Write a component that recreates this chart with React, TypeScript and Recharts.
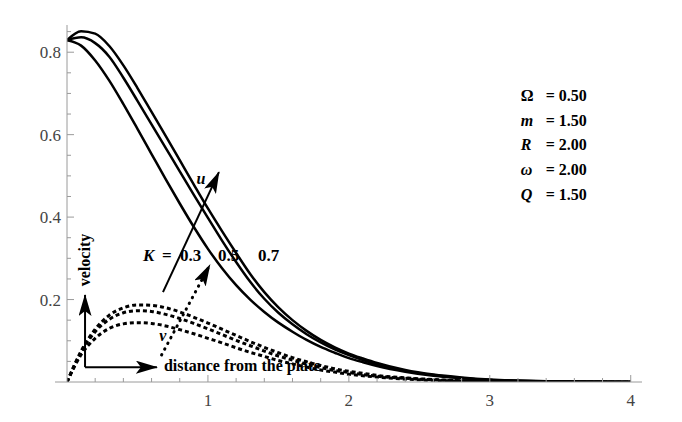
import React from "react";
import {
  LineChart,
  Line,
  XAxis,
  YAxis,
  ReferenceLine,
  ReferenceDot,
} from "recharts";

// distance from the plate
const distance = [
  0, 0.1, 0.2, 0.3, 0.4, 0.5, 0.6, 0.7, 0.8, 0.9, 1.0, 1.1, 1.2, 1.3, 1.4, 1.5,
  1.6, 1.7, 1.8, 1.9, 2.0, 2.1, 2.2, 2.4, 2.6, 2.8, 3.0, 3.2, 3.5, 4.0,
];

// primary velocity u
const uK03 = [
  0.829, 0.816, 0.78, 0.731, 0.674, 0.614, 0.553, 0.492, 0.433, 0.376, 0.323,
  0.276, 0.235, 0.2, 0.17, 0.144, 0.122, 0.102, 0.085, 0.071, 0.058, 0.048,
  0.039, 0.025, 0.015, 0.009, 0.005, 0.003, 0.001, 0,
];
const uK05 = [
  0.829, 0.836, 0.822, 0.789, 0.738, 0.682, 0.625, 0.568, 0.511, 0.454, 0.398,
  0.343, 0.291, 0.243, 0.202, 0.168, 0.14, 0.116, 0.096, 0.079, 0.065, 0.053,
  0.043, 0.027, 0.017, 0.01, 0.005, 0.003, 0.001, 0,
];
const uK07 = [
  0.829, 0.851, 0.845, 0.815, 0.768, 0.713, 0.655, 0.597, 0.538, 0.479, 0.421,
  0.366, 0.313, 0.262, 0.218, 0.181, 0.15, 0.124, 0.102, 0.084, 0.069, 0.057,
  0.046, 0.029, 0.018, 0.011, 0.006, 0.003, 0.001, 0,
];

// secondary velocity v
const vK03 = [
  0, 0.066, 0.106, 0.13, 0.141, 0.144, 0.142, 0.136, 0.127, 0.117, 0.106,
  0.095, 0.083, 0.072, 0.062, 0.052, 0.044, 0.036, 0.029, 0.024, 0.019, 0.015,
  0.012, 0.007, 0.004, 0.002, 0.001, 0.001, 0, 0,
];
const vK05 = [
  0, 0.072, 0.122, 0.152, 0.168, 0.173, 0.171, 0.164, 0.154, 0.142, 0.129,
  0.115, 0.101, 0.088, 0.075, 0.063, 0.053, 0.043, 0.035, 0.028, 0.023, 0.018,
  0.014, 0.009, 0.005, 0.003, 0.001, 0.001, 0, 0,
];
const vK07 = [
  0, 0.075, 0.128, 0.162, 0.18, 0.187, 0.186, 0.18, 0.17, 0.157, 0.143, 0.128,
  0.113, 0.098, 0.084, 0.071, 0.059, 0.049, 0.04, 0.032, 0.026, 0.021, 0.016,
  0.01, 0.006, 0.003, 0.002, 0.001, 0, 0,
];

const xTicks = [
  0.2, 0.4, 0.6, 0.8, 1, 1.2, 1.4, 1.6, 1.8, 2, 2.2, 2.4, 2.6, 2.8, 3, 3.2,
  3.4, 3.6, 3.8, 4,
];
const yTicks = [
  0.05, 0.1, 0.15, 0.2, 0.25, 0.3, 0.35, 0.4, 0.45, 0.5, 0.55, 0.6, 0.65, 0.7,
  0.75, 0.8, 0.85,
];

const paramSymbols = ["Ω", "m", "R", "ω", "Q"];
const paramValues = ["0.50", "1.50", "2.00", "2.00", "1.50"];
const paramRows = [0.682, 0.622, 0.562, 0.502, 0.4415];

const data = distance.map((x, i) => ({
  x,
  u03: uK03[i],
  u05: uK05[i],
  u07: uK07[i],
  v03: vK03[i],
  v05: vK05[i],
  v07: vK07[i],
}));

const SERIF = '"Liberation Serif", "Times New Roman", serif';
const AXIS = "#9a9a9a";
const LABEL = "#444";

function XTick({ x, y, payload }: any) {
  const v = payload.value;
  const major = Math.abs(v - Math.round(v)) < 1e-6;
  return (
    <g>
      <line x1={x} y1={y} x2={x} y2={y - (major ? 7 : 4)} stroke={AXIS} />
      {major && (
        <text
          x={x}
          y={y + 24}
          textAnchor="middle"
          fontFamily={SERIF}
          fontSize={17}
          fill={LABEL}
        >
          {Math.round(v)}
        </text>
      )}
    </g>
  );
}

function YTick({ x, y, payload }: any) {
  const v = payload.value;
  const major = Math.abs(v * 5 - Math.round(v * 5)) < 1e-6;
  return (
    <g>
      <line x1={x} y1={y} x2={x + (major ? 7 : 4)} y2={y} stroke={AXIS} />
      {major && (
        <text
          x={x - 6}
          y={y + 6}
          textAnchor="end"
          fontFamily={SERIF}
          fontSize={17}
          fill={LABEL}
        >
          {v.toFixed(1)}
        </text>
      )}
    </g>
  );
}

const arrow = (dotted: boolean) => (p: any) =>
  (
    <line
      x1={p.x1}
      y1={p.y1}
      x2={p.x2}
      y2={p.y2}
      stroke="#000"
      strokeWidth={dotted ? 3 : 2}
      strokeDasharray={dotted ? "0.5 6" : undefined}
      strokeLinecap={dotted ? "round" : "butt"}
      markerEnd="url(#head)"
    />
  );

const bold = {
  fontFamily: SERIF,
  fontSize: 16,
  fontWeight: 700,
  fill: "#000",
} as const;

export default function App() {
  return (
    <div style={{ position: "absolute", left: 0, top: 0 }}>
      <LineChart
        width={682}
        height={422}
        data={data}
        margin={{ top: 25, right: 40, bottom: 39, left: 66 }}
      >
        <defs>
          <marker
            id="head"
            viewBox="0 0 22 13"
            refX="21"
            refY="6.5"
            markerWidth="22"
            markerHeight="13"
            markerUnits="userSpaceOnUse"
            orient="auto"
          >
            <path d="M0,0 L22,6.5 L0,13 L5,6.5 Z" fill="#000" />
          </marker>
        </defs>

        <XAxis
          type="number"
          dataKey="x"
          domain={[0, 4.08]}
          ticks={xTicks}
          interval={0}
          height={1}
          tickSize={0}
          tickMargin={0}
          tickLine={false}
          axisLine={{ stroke: AXIS }}
          tick={(p: any) => <XTick {...p} />}
          allowDataOverflow
        />
        <YAxis
          type="number"
          domain={[0, 0.866]}
          ticks={yTicks}
          interval={0}
          width={1}
          tickSize={0}
          tickMargin={0}
          tickLine={false}
          axisLine={{ stroke: AXIS }}
          tick={(p: any) => <YTick {...p} />}
          allowDataOverflow
        />

        <ReferenceLine
          segment={[
            { x: -0.085, y: 0 },
            { x: 0, y: 0 },
          ]}
          stroke={AXIS}
          ifOverflow="visible"
        />

        <Line type="monotone" dataKey="u03" stroke="#000" strokeWidth={2.5} dot={false} isAnimationActive={false} />
        <Line type="monotone" dataKey="u05" stroke="#000" strokeWidth={2.5} dot={false} isAnimationActive={false} />
        <Line type="monotone" dataKey="u07" stroke="#000" strokeWidth={2.5} dot={false} isAnimationActive={false} />
        <Line type="monotone" dataKey="v03" stroke="#000" strokeWidth={3} strokeDasharray="4 3" dot={false} isAnimationActive={false} />
        <Line type="monotone" dataKey="v05" stroke="#000" strokeWidth={3} strokeDasharray="4 3" dot={false} isAnimationActive={false} />
        <Line type="monotone" dataKey="v07" stroke="#000" strokeWidth={3} strokeDasharray="4 3" dot={false} isAnimationActive={false} />

        {/* arrows */}
        <ReferenceLine
          segment={[
            { x: 0.681, y: 0.218 },
            { x: 1.078, y: 0.509 },
          ]}
          shape={arrow(false)}
        />
        <ReferenceLine
          segment={[
            { x: 0.671, y: 0.0655 },
            { x: 1.014, y: 0.284 },
          ]}
          shape={arrow(true)}
        />
        <ReferenceLine
          segment={[
            { x: 0.128, y: 0.036 },
            { x: 0.128, y: 0.211 },
          ]}
          shape={arrow(false)}
        />
        <ReferenceLine
          segment={[
            { x: 0.128, y: 0.036 },
            { x: 0.638, y: 0.036 },
          ]}
          shape={arrow(false)}
        />

        {/* labels */}
        <ReferenceDot
          x={0.95}
          y={0.48}
          r={0}
          shape={(p: any) => (
            <text x={p.cx} y={p.cy} textAnchor="middle" fontStyle="italic" {...bold}>
              u
            </text>
          )}
        />
        <ReferenceDot
          x={0.68}
          y={0.0995}
          r={0}
          shape={(p: any) => (
            <text x={p.cx} y={p.cy} textAnchor="middle" fontStyle="italic" {...bold}>
              v
            </text>
          )}
        />
        <ReferenceDot
          x={0.539}
          y={0.294}
          r={0}
          shape={(p: any) => (
            <g>
              <text x={p.cx} y={p.cy} fontStyle="italic" {...bold} fontSize={17}>
                K
              </text>
              <text x={p.cx + 19} y={p.cy} {...bold} fontSize={17}>=</text>
              <text x={p.cx + 37} y={p.cy} {...bold} fontSize={17}>0.3</text>
              <text x={p.cx + 75} y={p.cy} {...bold} fontSize={17}>0.5</text>
              <text x={p.cx + 115} y={p.cy} {...bold} fontSize={17}>0.7</text>
            </g>
          )}
        />
        <ReferenceDot
          x={0.163}
          y={0.296}
          r={0}
          shape={(p: any) => (
            <text
              x={p.cx}
              y={p.cy}
              textAnchor="middle"
              transform={`rotate(-90 ${p.cx} ${p.cy})`}
              {...bold}
            >
              velocity
            </text>
          )}
        />
        <ReferenceDot
          x={0.688}
          y={0.027}
          r={0}
          shape={(p: any) => (
            <text x={p.cx} y={p.cy} {...bold}>
              distance from the plate
            </text>
          )}
        />

        {paramSymbols.map((s, i) => (
          <ReferenceDot
            key={s}
            x={3.22}
            y={paramRows[i]}
            r={0}
            shape={(p: any) => (
              <text
                x={p.cx}
                y={p.cy}
                fontStyle={i === 0 ? "normal" : "italic"}
                {...bold}
              >
                {s}
              </text>
            )}
          />
        ))}
        {paramValues.map((v, i) => (
          <ReferenceDot
            key={"v" + i}
            x={3.688}
            y={paramRows[i]}
            r={0}
            shape={(p: any) => (
              <text x={p.cx} y={p.cy} textAnchor="end" {...bold}>
                = {v}
              </text>
            )}
          />
        ))}
      </LineChart>
    </div>
  );
}
